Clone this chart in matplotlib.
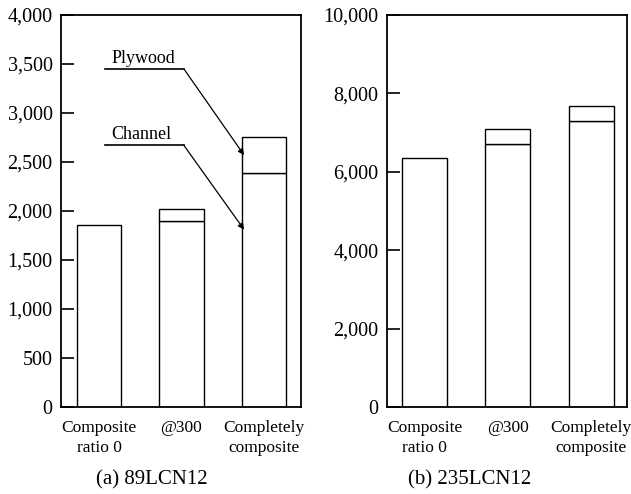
import matplotlib
matplotlib.use("Agg")
import matplotlib.pyplot as plt
import numpy as np

plt.rcParams['font.family'] = ['Liberation Serif', 'DejaVu Serif']

categories = ["Composite\nratio 0", "@300", "Completely\ncomposite"]

# (a) 89LCN12
channel_a = [1860, 1900, 2390]
total_a = [1860, 2020, 2760]
yticks_a = [0, 500, 1000, 1500, 2000, 2500, 3000, 3500, 4000]

# (b) 235LCN12
channel_b = [6350, 6700, 7290]
total_b = [6350, 7100, 7680]
yticks_b = [0, 2000, 4000, 6000, 8000, 10000]

fig = plt.figure(figsize=(6.31, 4.94), dpi=100)
W, H = 631, 494

def add_ax(x0, x1, y0, y1):
    return fig.add_axes([x0 / W, 1 - y1 / H, (x1 - x0) / W, (y1 - y0) / H])

axA = add_ax(61, 301, 15, 407)
axB = add_ax(387, 627, 15, 407)

def draw(ax, channel, total, yticks, xlim):
    x = np.arange(len(categories))
    ply = np.array(total) - np.array(channel)
    ax.bar(x, channel, width=0.54, color='white', edgecolor='black', linewidth=1.0)
    mask = ply > 0
    ax.bar(x[mask], ply[mask], bottom=np.array(channel)[mask], width=0.54,
           color='white', edgecolor='black', linewidth=1.0)
    ax.set_xlim(*xlim)
    ax.set_ylim(yticks[0], yticks[-1])
    ax.set_yticks(yticks)
    ax.set_yticklabels([f"{v:,}" for v in yticks], fontsize=14.5)
    ax.set_xticks(x)
    ax.set_xticklabels(categories, fontsize=12.5, linespacing=1.35)
    ax.tick_params(axis='y', direction='in', length=9, width=1.2, pad=6)
    ax.tick_params(axis='x', length=0, pad=9)
    for s in ax.spines.values():
        s.set_linewidth(1.3)

draw(axA, channel_a, total_a, yticks_a, (-0.46, 2.45))
draw(axB, channel_b, total_b, yticks_b, (-0.45, 2.43))

# Nudge the right-most label inward so it fits like in the reference
axB.get_xticklabels()[-1].set_x(1.96)

# Annotations (a)
for label, ytext, ytarget in [("Plywood", 3450, 2570), ("Channel", 2670, 1810)]:
    axA.plot([0.07, 1.03], [ytext, ytext], color='black', linewidth=1.2)
    axA.annotate("", xy=(1.76, ytarget), xytext=(1.03, ytext),
                 arrowprops=dict(arrowstyle='-|>', color='black', lw=0.9,
                                 mutation_scale=9, shrinkA=0, shrinkB=0))
    axA.text(0.15, ytext + 20, label, fontsize=13, ha='left', va='bottom')

fig.text(152 / W, 1 - 480 / H, "(a) 89LCN12", fontsize=15, ha='center', va='center')
fig.text(470 / W, 1 - 480 / H, "(b) 235LCN12", fontsize=15, ha='center', va='center')

fig.savefig("out.png", dpi=100)
